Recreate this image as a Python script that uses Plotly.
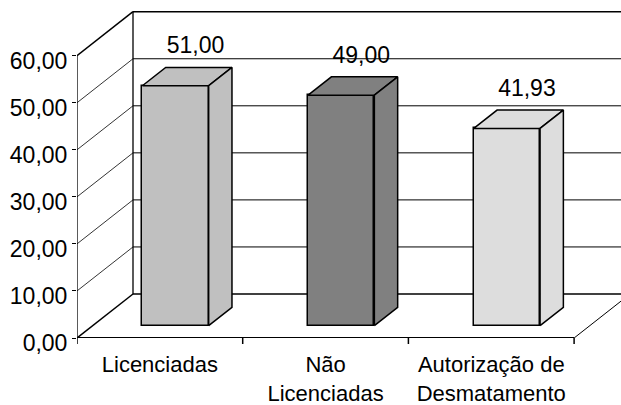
import plotly.graph_objects as go

# ---------------- data ----------------
categories = ["Licenciadas", "Não<br>Licenciadas", "Autorização de<br>Desmatamento"]
values = [51.00, 49.00, 41.93]
value_labels = ["51,00", "49,00", "41,93"]
tick_vals = [0, 10, 20, 30, 40, 50, 60]
tick_labels = ["0,00", "10,00", "20,00", "30,00", "40,00", "50,00", "60,00"]
bar_colors = ["#C0C0C0", "#808080", "#DDDDDD"]

# ---------------- geometry (oblique 3-D projection) ----------------
W, H = 621, 405
M_L, M_R, M_T, M_B = 77, 0, 5, 67
PX_CAT = 165.7           # pixels per category on the front plane
PX_VAL = 4.705           # pixels per value unit
DEPTH_DX, DEPTH_DY = 56.0, 44.0   # full depth offset in pixels
BAR_D0, BAR_D1 = 0.28, 0.696      # bar front / back depth fractions
BAR_HALF = 0.20                   # half bar width (category units)
YMAX = 60
FS = 23
FS_X = 22

plot_w = W - M_L - M_R
plot_h = H - M_T - M_B
x_range = [-0.5, -0.5 + plot_w / PX_CAT]
y_range = [0, plot_h / PX_VAL]


def proj(x, v, d):
    """front-plane data coords of a point at depth fraction d"""
    return x + d * DEPTH_DX / PX_CAT, v + d * DEPTH_DY / PX_VAL


FONT = "Arial, 'Liberation Sans', sans-serif"
fig = go.Figure()
shapes = []


def seg(p, q, width=1.0, color="black"):
    shapes.append(dict(type="line", xref="x", yref="y", x0=p[0], y0=p[1], x1=q[0], y1=q[1],
                       line=dict(color=color, width=width), layer="below"))


x_left, x_right = -0.5, len(categories) - 0.5
# back wall grid lines
for v in tick_vals:
    w = 1.5 if v in (0, YMAX) else 1.0
    seg(proj(x_left, v, 1), proj(x_right + 0.4, v, 1), w)
# left wall diagonals
for v in tick_vals:
    w = 1.5 if v in (0, YMAX) else 0.8
    seg(proj(x_left, v, 0), proj(x_left, v, 1), w)
# back wall left edge & front axis line
seg(proj(x_left, 0, 1), proj(x_left, YMAX, 1), 1.3)
seg(proj(x_left, 0, 0), proj(x_left, YMAX, 0), 1.3)
# floor
seg(proj(x_left, 0, 0), proj(x_right, 0, 0), 2.0)
seg(proj(x_right, 0, 0), proj(x_right, 0, 1), 1.0)
# category separator ticks on the floor front edge
for i in range(len(categories) + 1):
    xt = x_left + i
    shapes.append(dict(type="line", xref="x", yref="paper", x0=xt, x1=xt,
                       y0=0, y1=-6 / plot_h, line=dict(color="black", width=1.5)))

# ---------------- bars ----------------
base_units = BAR_D0 * DEPTH_DY / PX_VAL
bar_x = [proj(i, 0, BAR_D0)[0] for i in range(len(categories))]
fig.add_trace(go.Bar(
    x=bar_x, y=values, base=[base_units] * len(values), width=2 * BAR_HALF,
    marker=dict(color=bar_colors, line=dict(color="black", width=1.5)),
    hoverinfo="skip", showlegend=False))

ddx = (BAR_D1 - BAR_D0) * DEPTH_DX / PX_CAT
ddy = (BAR_D1 - BAR_D0) * DEPTH_DY / PX_VAL
for i, (v, c) in enumerate(zip(values, bar_colors)):
    xl = bar_x[i] - BAR_HALF
    xr = bar_x[i] + BAR_HALF
    top = base_units + v
    # top face
    fig.add_trace(go.Scatter(
        x=[xl, xr, xr + ddx, xl + ddx, xl], y=[top, top, top + ddy, top + ddy, top],
        mode="lines", fill="toself", fillcolor=c, line=dict(color="black", width=1.5),
        hoverinfo="skip", showlegend=False))
    # side face
    fig.add_trace(go.Scatter(
        x=[xr, xr, xr + ddx, xr + ddx, xr], y=[base_units, top, top + ddy, base_units + ddy, base_units],
        mode="lines", fill="toself", fillcolor=c, line=dict(color="black", width=1.5),
        hoverinfo="skip", showlegend=False))

# value labels
LABEL_DX_PX, LABEL_DY_PX = 20, 38
fig.add_trace(go.Scatter(
    x=[bx + LABEL_DX_PX / PX_CAT for bx in bar_x],
    y=[base_units + v + LABEL_DY_PX / PX_VAL for v in values],
    mode="text", text=value_labels, textposition="middle center",
    textfont=dict(family=FONT, size=FS, color="black"),
    cliponaxis=False, hoverinfo="skip", showlegend=False))

fig.update_layout(
    width=W, height=H, margin=dict(l=M_L, r=M_R, t=M_T, b=M_B, pad=0, autoexpand=False),
    paper_bgcolor="white", plot_bgcolor="white", shapes=shapes,
    bargap=0, showlegend=False,
    font=dict(family=FONT, size=FS, color="black"),
    xaxis=dict(range=x_range, tickmode="array", tickvals=list(range(len(categories))),
               ticktext=categories, ticks="", showgrid=False, zeroline=False, showline=False,
               fixedrange=True, ticklabelstandoff=11, automargin=False,
               tickfont=dict(family=FONT, size=FS_X, color="black")),
    yaxis=dict(range=y_range, tickmode="array", tickvals=tick_vals, ticktext=tick_labels,
               ticks="outside", ticklen=4, tickwidth=1.3, tickcolor="black",
               showgrid=False, zeroline=False, showline=False, fixedrange=True,
               ticklabelshift=5, automargin=False,
               tickfont=dict(family=FONT, size=FS, color="black")),
)

fig.write_html("out.html", config={"displayModeBar": False},
               post_script="document.body.style.margin='0';document.body.style.overflow='hidden';")
